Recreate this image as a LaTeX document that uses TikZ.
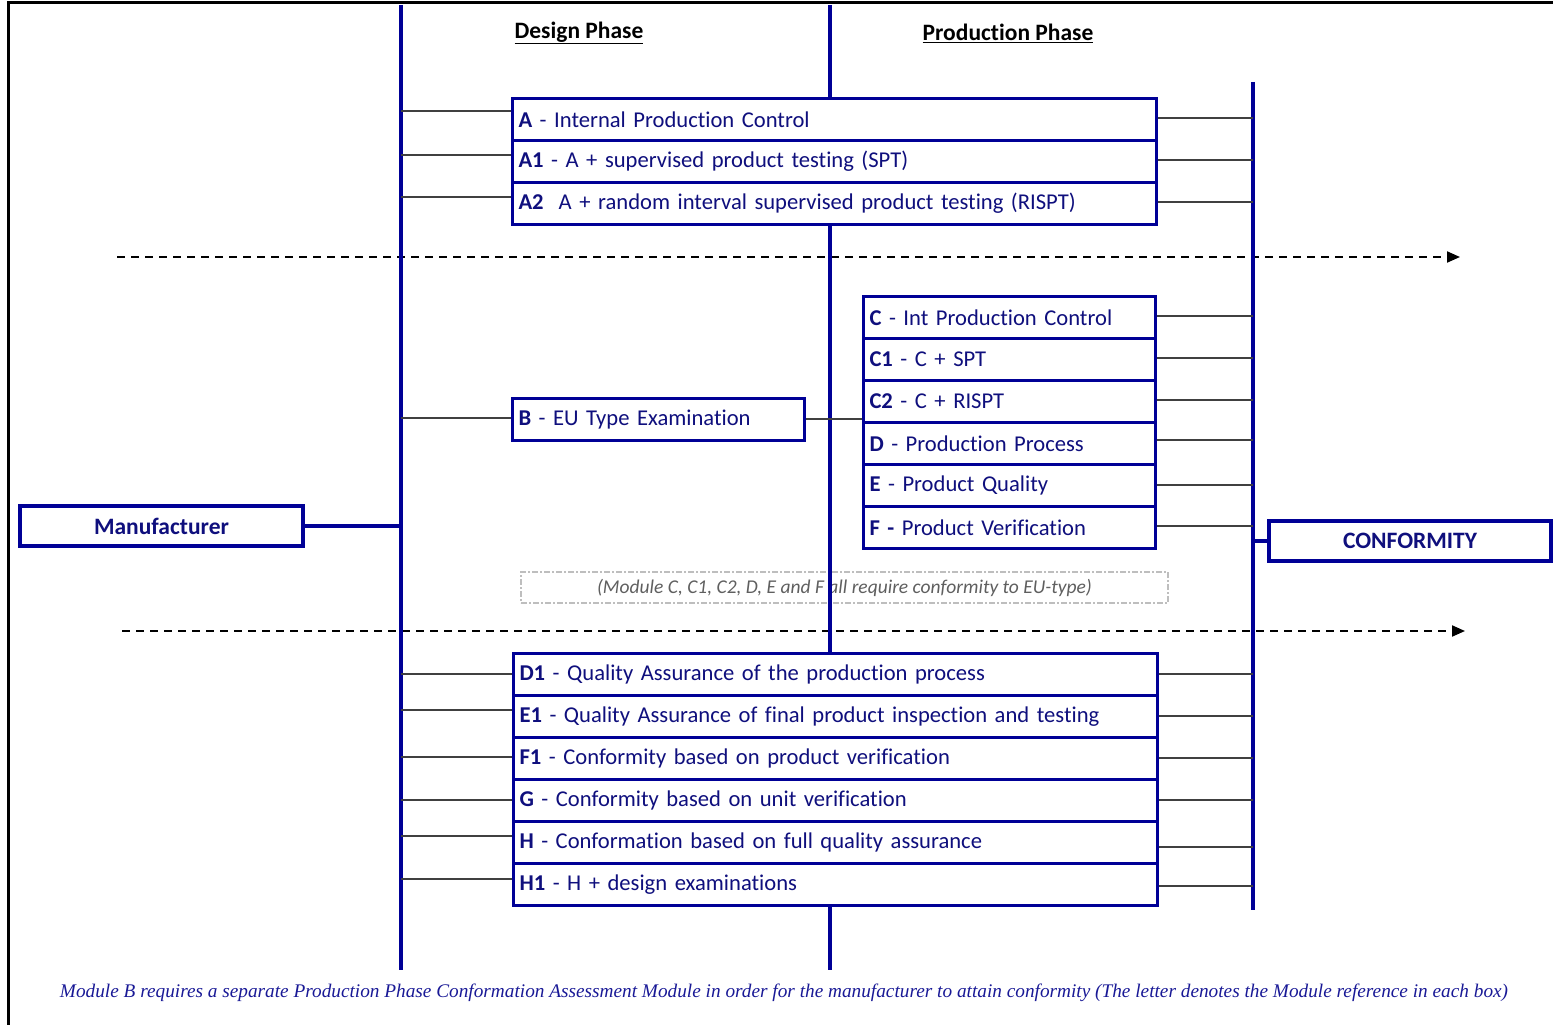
\documentclass[tikz,border=0pt]{standalone}
\usepackage{fontspec}
\setmainfont[Ligatures={NoCommon}]{Carlito}
\newfontfamily\capfont{Liberation Serif}
\usetikzlibrary{arrows.meta}

\definecolor{rail}{RGB}{0,0,150}
\definecolor{navytext}{RGB}{15,15,125}
\definecolor{notegray}{RGB}{95,95,95}
\definecolor{notebox}{RGB}{190,190,190}
\definecolor{capblue}{RGB}{25,25,150}

\newcommand{\boxfont}{\fontsize{22.6}{26}\selectfont}
\newcommand{\headfont}{\fontsize{23.5}{27}\selectfont\bfseries}

\tikzset{
  railline/.style={draw=rail, line width=4pt},
  conn/.style={draw=black!75, line width=1.4pt},
  bluelink/.style={draw=rail, line width=3.5pt},
  mod/.style={draw=rail, line width=3pt, fill=white, rectangle,
    inner xsep=6pt, inner ysep=0pt, minimum height=42pt,
    align=left, anchor=north west, font=\boxfont, text=navytext},
  wide/.style={mod, text width=632pt},
  half/.style={mod, text width=280pt},
  endbox/.style={draw=rail, line width=4pt, fill=white, rectangle,
    minimum height=40pt, font=\headfont, text=navytext},
  divider/.style={draw=black, line width=2pt, dash pattern=on 8pt off 6pt,
    -{Triangle[length=13pt,width=11pt]}},
  phase/.style={font=\headfont, text=black}
}

\begin{document}
\begin{tikzpicture}[x=1pt,y=-1pt]
\useasboundingbox (0,0) rectangle (1553,1025);

% outer frame (top and left edges)
\draw[line width=3pt, black] (8.5,1025) -- (8.5,3) -- (1553,3);

% phase headings
\node[phase] (design) at (579,33) {\underline{Design Phase}};
\node[phase] (production) at (1008,33) {\underline{Production Phase}};

% dashed separators
\coordinate (d1s) at (117,257); \coordinate (d1e) at (1460,257);
\coordinate (d2s) at (122,631); \coordinate (d2e) at (1465,631);
\draw[divider] (d1s) -- (d1e);
\draw[divider] (d2s) -- (d2e);

% note on modules C to F
\node[draw=notebox, line width=1.8pt, dash pattern=on 6pt off 2pt on 2pt off 2pt,
      minimum width=647pt, minimum height=31pt, inner sep=0pt,
      font=\fontsize{19.5}{22}\selectfont\itshape, text=notegray]
  (note) at (844.5,587.5) {(Module C, C1, C2, D, E and F all require conformity to EU-type)};

% rails
\coordinate (Ltop) at (401,5);   \coordinate (Lbot) at (401,970);
\coordinate (Mtop) at (830,5);   \coordinate (Mbot) at (830,970);
\coordinate (Rtop) at (1253,82); \coordinate (Rbot) at (1253,910);
\draw[railline] (Ltop) -- (Lbot);
\draw[railline] (Mtop) -- (Mbot);
\draw[railline] (Rtop) -- (Rbot);

% module A group
\node[wide] (A)  at (511,97)  {\textbf{A} - Internal Production Control};
\node[wide] (A1) at (511,139) {\textbf{A1} - A + supervised product testing (SPT)};
\node[wide] (A2) at (511,181) {\textbf{A2}\ \ A + random interval supervised product testing (RISPT)};

% module B
\node[half] (B) at (511,397) {\textbf{B} - EU Type Examination};

% modules C to F
\node[half] (C)  at (862,295) {\textbf{C} - Int Production Control};
\node[half] (C1) at (862,337) {\textbf{C1} - C + SPT};
\node[half] (C2) at (862,379) {\textbf{C2} - C + RISPT};
\node[half] (D)  at (862,421) {\textbf{D} - Production Process};
\node[half] (E)  at (862,463) {\textbf{E} - Product Quality};
\node[half] (F)  at (862,505) {\textbf{F -} Product Verification};

% modules D1 to H1
\node[wide] (D1) at (512,652) {\textbf{D1} - Quality Assurance of the production process};
\node[wide] (E1) at (512,694) {\textbf{E1} - Quality Assurance of final product inspection and testing};
\node[wide] (F1) at (512,736) {\textbf{F1} - Conformity based on product verification};
\node[wide] (G)  at (512,778) {\textbf{G} - Conformity based on unit verification};
\node[wide] (H)  at (512,820) {\textbf{H} - Conformation based on full quality assurance};
\node[wide] (H1) at (512,862) {\textbf{H1} - H + design examinations};

% end points
\node[endbox, minimum width=283pt] (manu) at (161.5,526) {Manufacturer};
\node[endbox, minimum width=282pt] (conf) at (1410,541) {CONFORMITY};

% links from the manufacturer rail
\draw[bluelink] (manu.east) -- (manu.east -| Ltop);
\draw[bluelink] (conf.west) -- (conf.west -| Rtop);

\foreach \n/\y in {A/111, A1/155, A2/197, B/418, D1/674, E1/710, F1/757, G/800, H/836, H1/879}
  \draw[conn] (\n.west |- 0,\y) -- (Ltop |- 0,\y);

% links to the conformity rail
\foreach \n/\y in {A/118, A1/160, A2/202, C/316, C1/358, C2/400, D/440, E/485, F/526,
                   D1/674, E1/716, F1/758, G/800, H/847, H1/886}
  \draw[conn] (\n.east |- 0,\y) -- (Rtop |- 0,\y);

% B feeds the production modules
\draw[conn] (B.east |- 0,419) -- (C2.west |- 0,419);

% footnote
\node[font=\capfont\fontsize{20}{24}\selectfont\itshape, text=capblue, inner sep=0pt]
  (foot) at (784,993) {\resizebox{1448pt}{!}{Module B requires a separate Production Phase Conformation Assessment Module in order for the manufacturer to attain conformity (The letter denotes the Module reference in each box)}};
\end{tikzpicture}
\end{document}
